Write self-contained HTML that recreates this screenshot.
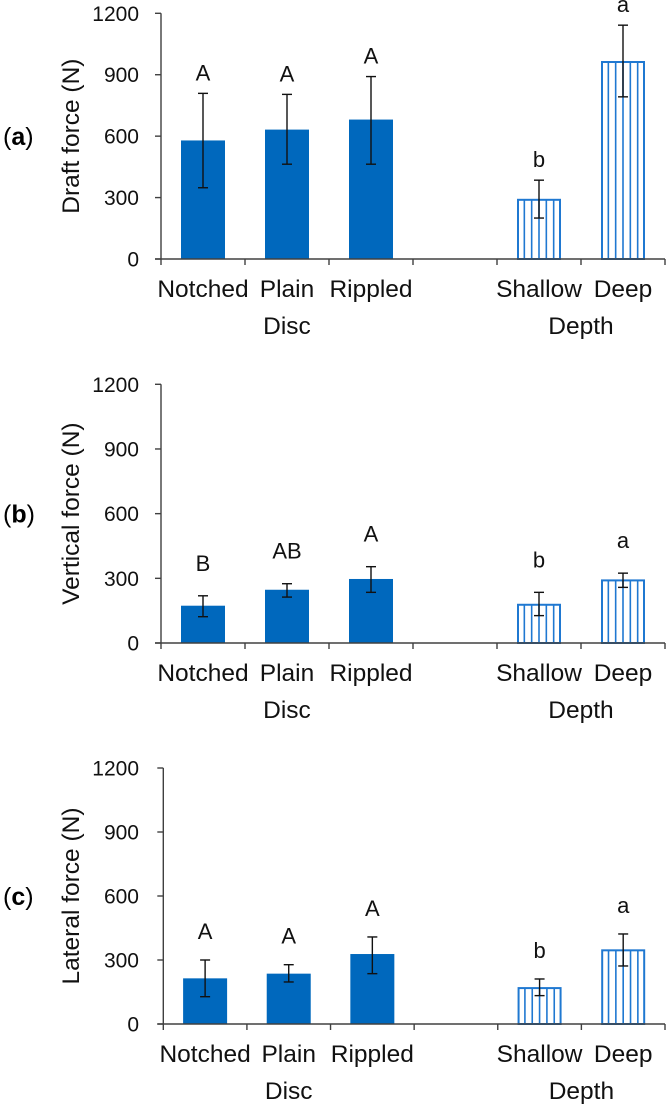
<!DOCTYPE html>
<html><head><meta charset="utf-8"><style>
html,body{margin:0;padding:0;background:#fff;}
svg{display:block;font-family:"Liberation Sans",Arial,sans-serif;}
</style></head><body>
<svg id="chart" width="668" height="1110" viewBox="0 0 668 1110"></svg>
<script>
const categories = ["Notched","Plain","Rippled","","Shallow","Deep"];
const groupNames = ["Disc","Depth"];
const panelLabels = ["a","b","c"];
const yTitles = ["Draft force (N)","Vertical force (N)","Lateral force (N)"];
const yTicks = [0,300,600,900,1200];
const draftMean = [579,632,681,null,294,967];
const draftLow = [348,463,463,null,200,792];
const draftHigh = [809,804,891,null,385,1142];
const draftLetters = ["A","A","A","","b","a"];
const vertMean = [173,247,297,null,182,295];
const vertLow = [122,213,235,null,127,258];
const vertHigh = [219,275,354,null,235,324];
const vertLetters = ["B","AB","A","","b","a"];
const latMean = [214,236,328,null,173,350];
const latLow = [128,197,236,null,133,272];
const latHigh = [300,278,408,null,211,422];
const latLetters = ["A","A","A","","b","a"];

const NS = "http://www.w3.org/2000/svg";
const svg = document.getElementById("chart");
function mk(tag, attrs, parent, text){
  const e = document.createElementNS(NS, tag);
  for (const k in attrs) e.setAttribute(k, attrs[k]);
  if (text !== undefined) e.textContent = text;
  (parent || svg).appendChild(e);
  return e;
}
const panels = [
  {mean:draftMean, low:draftLow, high:draftHigh, letters:draftLetters, x0:161, top:13.3, bottom:259, gap:13},
  {mean:vertMean, low:vertLow, high:vertHigh, letters:vertLetters, x0:161, top:384.3, bottom:643, gap:25},
  {mean:latMean, low:latLow, high:latHigh, letters:latLetters, x0:163.3, top:768, bottom:1024, gap:21}
];
const X1 = 665, BW = 44;
const SOLID = "#0068bd", HATCH = "#1f78d1";

panels.forEach((p, pi) => {
  const g = mk("g", {});
  
  
  const yS = v => p.bottom - (v / 1200) * (p.bottom - p.top);
  const step = (X1 - p.x0) / categories.length;
  const xC = i => p.x0 + (i + 0.5) * step;

  const ya = mk("line", {x1:p.x0, y1:p.top, x2:p.x0, y2:p.bottom, stroke:"#404040", "stroke-width":1.4}, g);
  
  
  yTicks.forEach(t => {
    const y = yS(t);
    mk("line", {x1:p.x0-6, y1:y, x2:p.x0, y2:y, stroke:"#404040", "stroke-width":1.4}, g);
    const tl = mk("text", {x:139, y:y+7.5, "text-anchor":"end", "font-size":21, fill:"#111"}, g, String(t));
    
    
  });
  const cy = (p.top + p.bottom) / 2;
  const yt = mk("text", {x:0, y:0, transform:`translate(79,${cy}) rotate(-90)`, "text-anchor":"middle", "font-size":24.5, fill:"#111"}, g, yTitles[pi]);
  
  
  const pl = mk("text", {x:3, y:cy+9, "font-size":25, fill:"#000"}, g);
  
  
  mk("tspan", {}, pl, "(");
  mk("tspan", {"font-weight":"bold"}, pl, panelLabels[pi]);
  mk("tspan", {}, pl, ")");

  categories.forEach((c, i) => {
    const v = p.mean[i];
    if (v === null) return;
    const cx = xC(i), x = cx - BW/2, y = yS(v), h = p.bottom - y;
    if (i < 3) {
      const r = mk("rect", {x:x, y:y, width:BW, height:h, fill:SOLID}, g);
      
      
    } else {
      const bg = mk("g", {}, g);
      
      
      mk("rect", {x:x+1, y:y+1, width:BW-2, height:h-1, fill:"#fff", stroke:HATCH, "stroke-width":2}, bg);
      for (let k = 1; k < 6; k++) {
        const lx = x + k * BW / 6;
        mk("line", {x1:lx, y1:y+1, x2:lx, y2:p.bottom, stroke:HATCH, "stroke-width":1.6}, bg);
      }
    }
    const eb = mk("g", {stroke:"#111", "stroke-width":1.4}, g);
    
    
    const yh = yS(p.high[i]), yl = yS(p.low[i]);
    mk("line", {x1:cx, y1:yh, x2:cx, y2:yl}, eb);
    mk("line", {x1:cx-5, y1:yh, x2:cx+5, y2:yh}, eb);
    mk("line", {x1:cx-5, y1:yl, x2:cx+5, y2:yl}, eb);
    const lt = mk("text", {x:cx, y:yh - p.gap, "text-anchor":"middle", "font-size":22, fill:"#111"}, g, p.letters[i]);
    
    
  });

  const xa = mk("line", {x1:p.x0-6, y1:p.bottom, x2:X1, y2:p.bottom, stroke:"#404040", "stroke-width":1.4}, g);
  
  
  for (let k = 0; k <= categories.length; k++) {
    const tx = p.x0 + k * step;
    mk("line", {x1:tx, y1:p.bottom, x2:tx, y2:p.bottom+6, stroke:"#404040", "stroke-width":1.4}, g);
  }
  categories.forEach((c, i) => {
    if (!c) return;
    const t = mk("text", {x:xC(i), y:p.bottom+38, "text-anchor":"middle", "font-size":24.5, fill:"#111"}, g, c);
    
    
  });
  const g1 = mk("text", {x:xC(1), y:p.bottom+75, "text-anchor":"middle", "font-size":24.5, fill:"#111"}, g, groupNames[0]);
  
  
  const g2 = mk("text", {x:(xC(4)+xC(5))/2, y:p.bottom+75, "text-anchor":"middle", "font-size":24.5, fill:"#111"}, g, groupNames[1]);
  
  
});
</script>
</body></html>
